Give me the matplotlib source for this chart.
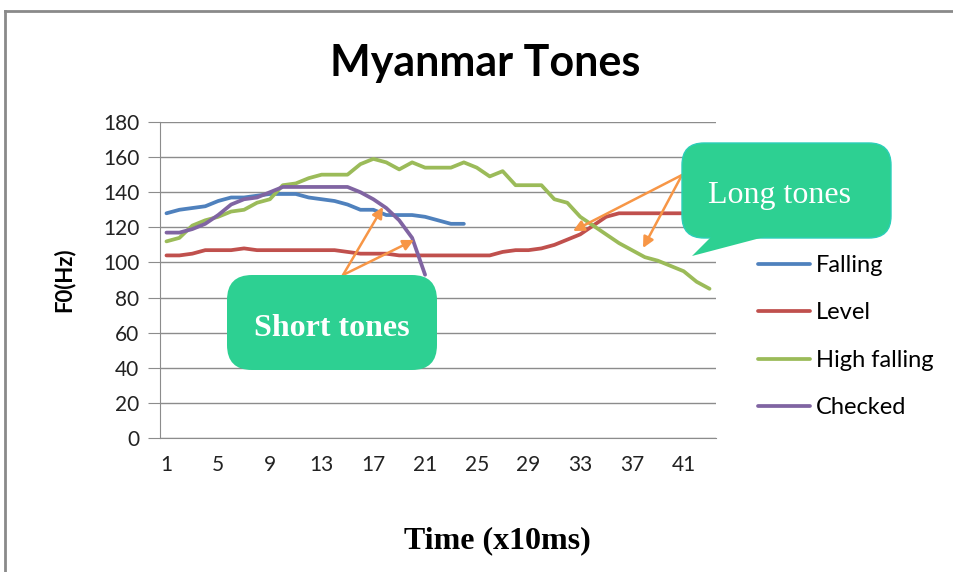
import matplotlib
matplotlib.use("Agg")
import matplotlib.pyplot as plt
from matplotlib.patches import FancyBboxPatch, Polygon, FancyArrowPatch
from matplotlib.lines import Line2D

# F0 contours (Hz), one value per 10 ms frame
falling = [128, 130, 131, 132, 135, 137, 137, 138, 139, 139, 139, 137, 136, 135,
           133, 130, 130, 127, 127, 127, 126, 124, 122, 122]
level = [104, 104, 105, 107, 107, 107, 108, 107, 107, 107, 107, 107, 107, 107,
         106, 105, 105, 105, 104, 104, 104, 104, 104, 104, 104, 104,
         106, 107, 107, 108, 110, 113, 116, 121, 126,
         128, 128, 128, 128, 128, 128]
high_falling = [112, 114, 121, 124, 126, 129, 130, 134, 136, 144, 145, 148, 150, 150,
                150, 156, 159, 157, 153, 157, 154, 154, 154, 157, 154, 149, 152, 144,
                144, 144, 136, 134, 126, 121, 116, 111, 107, 103, 101, 98, 95, 89, 85]
checked = [117, 117, 119, 122, 127, 133, 136, 137, 140, 143, 143, 143, 143, 143,
           143, 140, 136, 131, 124, 114, 93]

series = [("Falling", falling, "#4F81BD"),
          ("Level", level, "#C0504D"),
          ("High falling", high_falling, "#9BBB59"),
          ("Checked", checked, "#8064A2")]
xticks = list(range(1, 44, 4))

W, H = 954, 572
fig = plt.figure(figsize=(W / 100, H / 100), dpi=100)
ax = fig.add_axes([160 / W, 1 - 438 / H, 556 / W, 316 / H])


def px(x, y):
    # pixel position (from top-left) -> inches for fig.dpi_scale_trans
    return (x / 100, (H - y) / 100)


for name, vals, col in series:
    ax.plot(range(1, len(vals) + 1), vals, color=col, lw=2.7, label=name,
            solid_capstyle="round", zorder=3)

ax.set_xlim(0.5, 43.5)
ax.set_ylim(0, 180)
ax.set_yticks(range(0, 181, 20))
ax.set_xticks(xticks)
ax.grid(axis="y", color="#8c8c8c", lw=1)
ax.set_axisbelow(True)
for s in ["top", "right"]:
    ax.spines[s].set_visible(False)
for s in ["left", "bottom"]:
    ax.spines[s].set_color("#8c8c8c")
ax.tick_params(axis="y", length=9, color="#8c8c8c", labelsize=15, pad=6)
ax.tick_params(axis="x", length=0, labelsize=15, pad=12)
for lab in ax.get_xticklabels() + ax.get_yticklabels():
    lab.set_family("Lato")
    lab.set_color("#222222")

ax.set_ylabel("F0(Hz)", family="Lato", fontweight="bold", fontsize=16, labelpad=20)

fig.text(485 / W, 1 - 63 / H, "Myanmar Tones", ha="center", va="center",
         family="Lato", fontweight="bold", fontsize=31)
fig.text(497 / W, 1 - 541 / H, "Time (x10ms)", ha="center", va="center",
         family="Liberation Serif", fontweight="bold", fontsize=23)

leg = fig.legend(loc="upper left", bbox_to_anchor=(758 / W, 1 - 255 / H),
                 frameon=False, prop={"family": "Lato", "size": 17},
                 handlelength=2.2, handletextpad=0.25, labelspacing=1.12,
                 borderpad=0, borderaxespad=0)

# outer chart border
fig.add_artist(Line2D([5 / W, 1], [1 - 11 / H] * 2, color="#8a8a8a", lw=2))
fig.add_artist(Line2D([5 / W] * 2, [0, 1 - 11 / H], color="#8a8a8a", lw=2))

green = "#2DD092"
tr = fig.dpi_scale_trans

# Short tones callout
x0, y0 = px(227, 370)
fig.add_artist(FancyBboxPatch((x0, y0), 2.10, 0.95, transform=tr,
                              boxstyle="round,pad=0,rounding_size=0.25",
                              fc=green, ec="none", zorder=5))
fig.text(*px(332, 328), "Short tones", transform=tr, ha="center", va="center",
         family="Liberation Serif", fontweight="bold", fontsize=23, color="white",
         zorder=6)

# Long tones callout
x0, y0 = px(682, 238)
fig.add_artist(FancyBboxPatch((x0, y0), 2.09, 0.95, transform=tr,
                              boxstyle="round,pad=0,rounding_size=0.22",
                              fc=green, ec="#2bcfb8", lw=1, zorder=5))
fig.add_artist(Polygon([px(712, 236), px(692, 256), px(768, 236)], closed=True,
                       transform=tr, fc=green, ec="none", zorder=5))
fig.text(*px(779, 195), "Long tones", transform=tr, ha="center", va="center",
         family="Liberation Serif", fontsize=23, color="white", zorder=6)

orange = "#F79646"
arrows = [((343, 275), (383, 207)), ((343, 275), (414, 240)),
          ((682, 175), (573, 231)), ((682, 175), (643, 248))]
for start, tip in arrows:
    fig.add_artist(FancyArrowPatch(
        px(*start), px(*tip), transform=tr, arrowstyle="-|>", mutation_scale=16,
        color=orange, lw=1.8, shrinkA=0, shrinkB=0, zorder=4))

fig.savefig("out.png", dpi=100)
